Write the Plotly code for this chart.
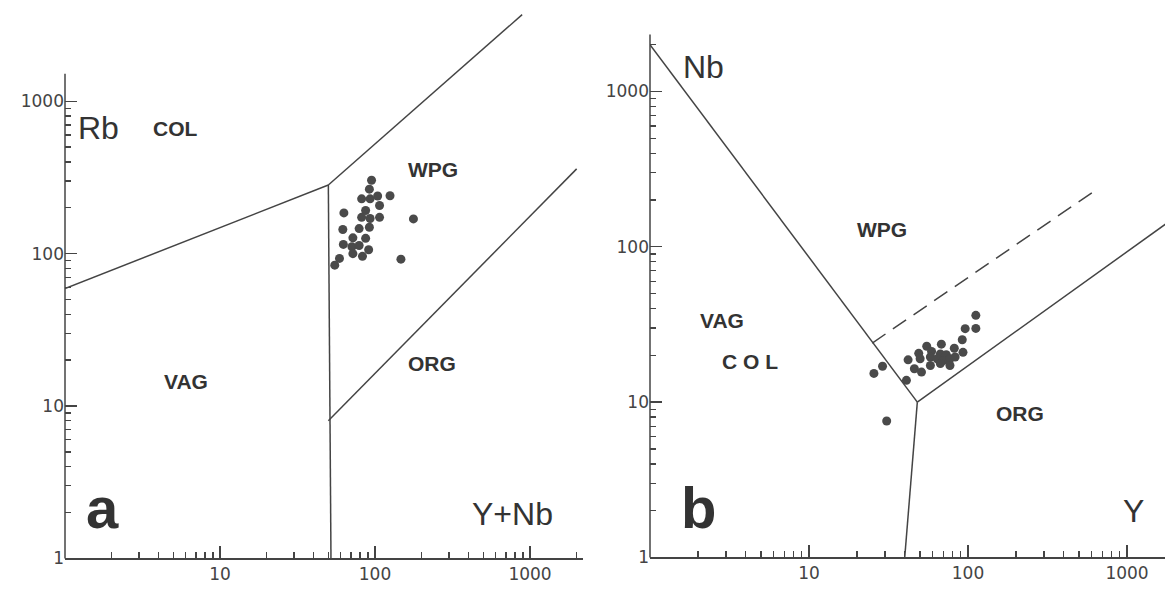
import plotly.graph_objects as go

W, H = 1165, 592

# ---------------- Panel a: Rb vs Y+Nb ----------------
a_ynb = [95, 92, 82, 93, 104, 125, 107, 63, 87, 82, 93, 107, 177, 62, 79, 92, 72, 87,
         62.5, 71, 79, 91, 72, 83, 59, 55, 147]
a_rb = [303, 265, 229, 229, 239, 240, 207, 185, 192, 173, 170, 173, 169, 144, 146, 149,
        127, 126, 115, 111, 113, 106, 100, 96, 93, 84, 92]

a_vag_col_x, a_vag_col_y = [1, 50], [59, 282]
a_vert_x, a_vert_y = [50, 52], [282, 1]
a_col_wpg_x, a_col_wpg_y = [50, 890], [282, 3700]
a_org_wpg_x, a_org_wpg_y = [50, 2000], [8, 360]

# ---------------- Panel b: Nb vs Y ----------------
b_y = [112, 96, 112, 92, 68, 55, 82, 49, 59, 67, 73, 93, 42, 50, 58, 64, 70, 77, 83,
       29, 46, 51, 58, 67, 77, 25.6, 41, 30.8]
b_nb = [36.2, 29.7, 29.8, 25.2, 23.6, 22.9, 22.2, 20.6, 21.2, 20.4, 20.2, 20.9, 18.7,
        19.0, 19.5, 19.0, 18.5, 19.0, 19.5, 17.0, 16.4, 15.6, 17.2, 17.7, 17.2, 15.3,
        13.8, 7.55]

b_wpg_x, b_wpg_y = [1, 48], [2000, 10]
b_vert_x, b_vert_y = [48, 40], [10, 1]
b_org_x, b_org_y = [48, 1750], [10, 140]
b_dash_x, b_dash_y = [25, 650], [24, 235]

major_ticks = [1, 10, 100, 1000]
minor_a_x = [m * d for d in (1, 10, 100) for m in range(2, 10)] + [2000]
minor_a_y = [m * d for d in (1, 10, 100) for m in range(2, 10)]
minor_b_y = [m * d for d in (1, 10, 100) for m in range(2, 10)] + [2000]
minor_b_x = [m * d for d in (1, 10, 100, 1000) for m in range(2, 10)]

LC = "#444444"
DOT = "#4a4a4a"
TXT = "#333333"

fig = go.Figure()

def line(x, y, xa, ya, dash="solid"):
    fig.add_trace(go.Scatter(x=x, y=y, mode="lines", xaxis=xa, yaxis=ya,
                             line=dict(color=LC, width=1.5, dash=dash),
                             hoverinfo="skip", showlegend=False))

line(a_vag_col_x, a_vag_col_y, "x", "y")
line(a_vert_x, a_vert_y, "x", "y")
line(a_col_wpg_x, a_col_wpg_y, "x", "y")
line(a_org_wpg_x, a_org_wpg_y, "x", "y")
fig.add_trace(go.Scatter(x=a_ynb, y=a_rb, mode="markers", xaxis="x", yaxis="y",
                         marker=dict(size=9, color=DOT), showlegend=False))

line(b_wpg_x, b_wpg_y, "x2", "y2")
line(b_vert_x, b_vert_y, "x2", "y2")
line(b_org_x, b_org_y, "x2", "y2")
line(b_dash_x, b_dash_y, "x2", "y2", dash="16px,9px")
fig.add_trace(go.Scatter(x=b_y, y=b_nb, mode="markers", xaxis="x2", yaxis="y2",
                         marker=dict(size=9, color=DOT), showlegend=False))

tickfont = dict(family="DejaVu Sans", size=17, color="#444444")

def axis(domain, rng, tickvals, minorvals, anchor, showline):
    return dict(domain=domain, type="log", range=rng, anchor=anchor,
                showline=showline, linecolor=LC, linewidth=1.5,
                ticks="inside", ticklen=12, tickwidth=1.4, tickcolor=LC,
                tickmode="array", tickvals=tickvals,
                ticktext=[str(v) for v in tickvals],
                minor=dict(ticks="inside", ticklen=6, tickwidth=1.3, tickcolor=LC,
                           tickmode="array", tickvals=minorvals, showgrid=False),
                showgrid=False, zeroline=False, tickfont=tickfont, fixedrange=True)

fig.update_layout(
    width=W, height=H, margin=dict(l=0, r=0, t=0, b=0),
    paper_bgcolor="white", plot_bgcolor="white", showlegend=False,
    xaxis=axis([65 / W, 583 / W], [0, 518 / 155], [10, 100, 1000], minor_a_x, "y", True),
    yaxis=axis([24 / H, 1], [0, 568 / 155], major_ticks, minor_a_y, "x", False),
    xaxis2=axis([650 / W, 1.0], [0, 515 / 159], [10, 100, 1000], minor_b_x, "y2", True),
    yaxis2=axis([25 / H, 1], [0, 567 / 158], major_ticks, minor_b_y, "x2", False),
)

# y-axis lines (shorter than plot area)
fig.add_shape(type="line", xref="paper", yref="paper", x0=65 / W, x1=65 / W,
              y0=24 / H, y1=1 - 75 / H, line=dict(color=LC, width=1.5))
fig.add_shape(type="line", xref="paper", yref="paper", x0=650 / W, x1=650 / W,
              y0=25 / H, y1=1 - 35 / H, line=dict(color=LC, width=1.5))

def label(text, px, py, size, family, bold=False):
    t = f"<b>{text}</b>" if bold else text
    fig.add_annotation(x=px / W, y=1 - py / H, xref="paper", yref="paper",
                       text=t, showarrow=False, xanchor="center", yanchor="middle",
                       font=dict(family=family, size=size, color=TXT))

narrow = "Liberation Sans Narrow, Arial Narrow, sans-serif"
plain = "Liberation Sans, Arial, sans-serif"

label("Rb", 98, 130, 32, plain)
label("COL", 175, 131, 21, narrow, True)
label("WPG", 433, 172, 21, narrow, True)
label("VAG", 186, 388, 21, narrow, True)
label("ORG", 432, 370, 21, narrow, True)
label("a", 102, 516, 58, narrow, True)
label("Y+Nb", 512, 523, 32, plain)

label("Nb", 703, 68, 32, plain)
label("WPG", 882, 233, 21, narrow, True)
label("VAG", 722, 326, 21, narrow, True)
label("C O L", 750, 368, 21, narrow, True)
label("ORG", 1020, 421, 21, narrow, True)
label("b", 698, 516, 58, narrow, True)
label("Y", 1133, 520, 32, plain)

fig.write_html("out.html",
               config={"displayModeBar": False, "staticPlot": True},
               post_script="document.body.style.margin='0';document.body.style.overflow='hidden';")
